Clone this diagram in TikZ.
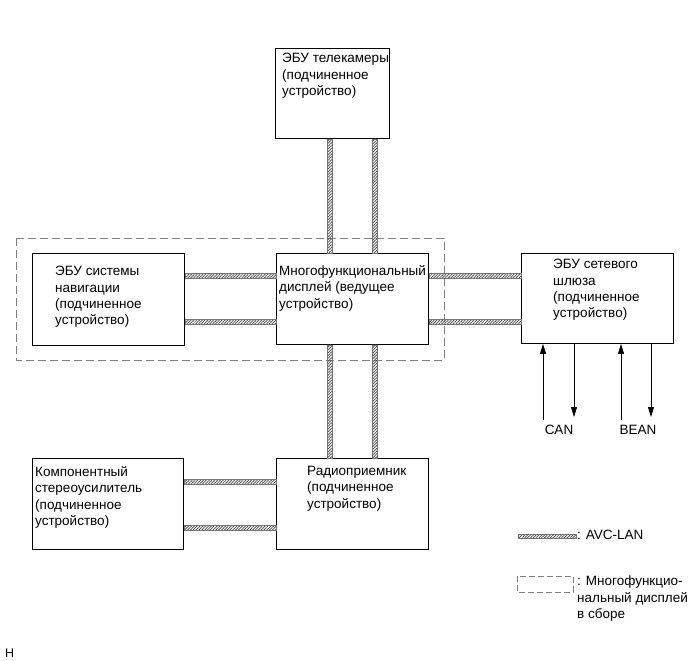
\documentclass[tikz,border=0pt]{standalone}
\usepackage{fontspec}
\setmainfont{Liberation Sans}
\usetikzlibrary{patterns.meta,arrows.meta,calc}
\newcommand\vcab[3]{\path[cable] ($(#1 |- #2.south)+(-2.5,0)$) rectangle ($(#1 |- #3.north)+(2.5,0)$);}
\newcommand\hcab[3]{\path[cable] ($(#2.east |- #1)+(0,-2.5)$) rectangle ($(#3.west |- #1)+(0,2.5)$);}
\begin{document}
\begin{tikzpicture}[x=1pt,y=-1pt,
  box/.style={draw, line width=0.9pt, anchor=north west, inner sep=0},
  txt/.style={anchor=north west, inner sep=0, align=left, font=\fontsize{13.5}{16.4}\selectfont},
  cable/.style={draw=black!55, line width=0.6pt, pattern={Lines[angle=45,distance=2pt,line width=0.7pt]}, pattern color=black!75},
  arr/.style={line width=0.8pt, -{Triangle[length=10pt,width=6pt]}},
  grpdash/.style={draw=black!50, line width=0.8pt, dash pattern=on 8pt off 4pt}]
\useasboundingbox (0,0) rectangle (694,661);

% boxes
\node[box, minimum width=114pt, minimum height=90pt] (tele) at (275,48) {};
\node[box, minimum width=152pt, minimum height=92pt] (nav) at (32,253) {};
\node[box, minimum width=152pt, minimum height=91pt] (multi) at (276,253) {};
\node[box, minimum width=152pt, minimum height=90pt] (gw) at (521,253) {};
\node[box, minimum width=152pt, minimum height=91pt] (radio) at (276,458) {};
\node[box, minimum width=151pt, minimum height=91pt] (comp) at (32,458) {};

% texts
\node[txt] (teleT) at (282,53) {ЭБУ телекамеры\\(подчиненное\\устройство)};
\node[txt] (navT) at (55,266) {ЭБУ системы\\навигации\\(подчиненное\\устройство)};
\node[txt] (multiT) at (279,265) {Многофункциональный\\дисплей (ведущее\\устройство)};
\node[txt] (gwT) at (553,259) {ЭБУ сетевого\\шлюза\\(подчиненное\\устройство)};
\node[txt] (radioT) at (307,466) {Радиоприемник\\(подчиненное\\устройство)};
\node[txt] (compT) at (35,466) {Компонентный\\стереоусилитель\\(подчиненное\\устройство)};

% group dashed rectangle
\draw[grpdash] (16,238) rectangle (444,360);

% cable positions
\coordinate (vx1) at (330,0);
\coordinate (vx2) at (375,0);
\coordinate (hy1) at (0,276);
\coordinate (hy2) at (0,322);
\coordinate (hy3) at (0,482);
\coordinate (hy4) at (0,528);

\vcab{vx1}{tele}{multi}
\vcab{vx2}{tele}{multi}
\vcab{vx1}{multi}{radio}
\vcab{vx2}{multi}{radio}
\hcab{hy1}{nav}{multi}
\hcab{hy2}{nav}{multi}
\hcab{hy1}{multi}{gw}
\hcab{hy2}{multi}{gw}
\hcab{hy3}{comp}{radio}
\hcab{hy4}{comp}{radio}

% CAN / BEAN arrows
\coordinate (a1) at (543,420);
\coordinate (a2) at (574,417);
\coordinate (a3) at (621,420);
\coordinate (a4) at (651,417);
\draw[arr] (a1) -- (a1 |- gw.south);
\draw[arr] (a2 |- gw.south) -- (a2);
\draw[arr] (a3) -- (a3 |- gw.south);
\draw[arr] (a4 |- gw.south) -- (a4);
\node[txt, anchor=base] (can) at (559,434) {CAN};
\node[txt, anchor=base] (bean) at (638,434) {BEAN};

% legend
\path[cable] (518,534) rectangle (576,538.5);
\node[txt] (leg1) at (577,530) {: AVC-LAN};
\draw[grpdash, dash pattern=on 6pt off 3pt] (517,576) rectangle (573,592);
\node[txt] (leg2) at (577,576) {: Многофункцио-\\нальный дисплей\\в сборе};

\node[anchor=base west, inner sep=0, font=\fontsize{12.5}{14}\selectfont] (fig) at (5,657) {H};
\end{tikzpicture}
\end{document}
